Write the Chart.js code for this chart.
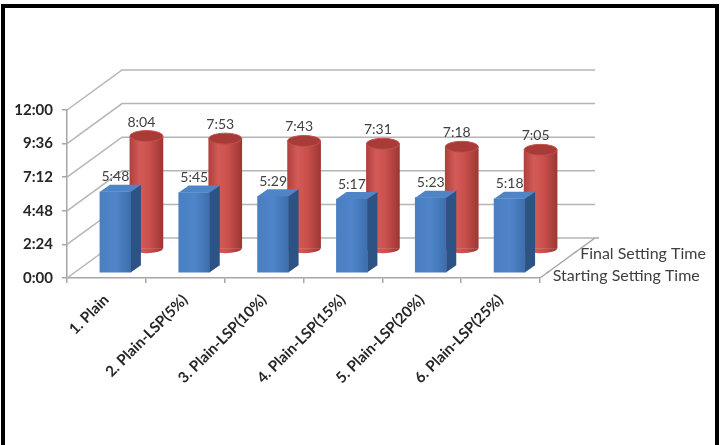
<!DOCTYPE html>
<html>
<head>
<meta charset="utf-8">
<script src="https://cdn.jsdelivr.net/npm/chart.js@4.4.0/dist/chart.umd.min.js"></script>
<style>
    html, body { margin: 0; padding: 0; background: #fff; }
    #wrap { position: relative; width: 725px; height: 445px; overflow: hidden; background: #fff; }
    #frame { position: absolute; left: 1px; top: 4px; width: 718px; height: 470px; border: solid #000; border-width: 4px 4px 0 4px; box-sizing: border-box; }
    canvas { position: absolute; left: 0; top: 0; }
</style>
</head>
<body>
<div id="wrap">
    <div id="frame"></div>
    <canvas id="chart" width="725" height="445"></canvas>
</div>
<script>
const categories = ['1. Plain', '2. Plain-LSP(5%)', '3. Plain-LSP(10%)', '4. Plain-LSP(15%)', '5. Plain-LSP(20%)', '6. Plain-LSP(25%)'];
// times in minutes
const startingTimes = [348, 345, 329, 317, 323, 318];
const finalTimes = [484, 473, 463, 451, 438, 425];
const seriesNames = ['Starting Setting Time', 'Final Setting Time'];
const yTicks = [0, 144, 288, 432, 576, 720];

// fake 3d: how far each series (and the back wall) sits behind the front axis
const depth = [{ dx: 9, dy: -5 }, { dx: 40, dy: -29 }];
const wall = { dx: 55, dy: -40 };

function toClock(min) {
    return Math.floor(min / 60) + ':' + String(min % 60).padStart(2, '0');
}

function barGradient(c, width, stops) {
    const chart = c.chart;
    if (!chart.chartArea) return stops[0][1];
    const cx = chart.scales.x.getPixelForValue(c.dataIndex);
    const g = chart.ctx.createLinearGradient(cx - width / 2, 0, cx + width / 2, 0);
    stops.forEach(s => g.addColorStop(s[0], s[1]));
    return g;
}

const blueStops = [[0, '#4a7fc2'], [0.5, '#4f86c9'], [1, '#3d6eae']];
const redStops = [[0, '#b0403d'], [0.3, '#d35b57'], [0.6, '#c94f4b'], [1, '#9c3734']];

const frame3d = {
    id: 'frame3d',
    beforeDatasetsDraw(chart) {
        const ctx = chart.ctx;
        const a = chart.chartArea;
        const y = chart.scales.y;
        ctx.save();
        ctx.strokeStyle = '#b5b5b5';
        ctx.lineWidth = 1.5;
        yTicks.forEach(v => {
            const py = y.getPixelForValue(v);
            ctx.beginPath();
            ctx.moveTo(a.left, py);
            ctx.lineTo(a.left + wall.dx, py + wall.dy);
            ctx.lineTo(a.right + wall.dx, py + wall.dy);
            ctx.stroke();
        });
        ctx.strokeStyle = '#a6a6a6';
        ctx.beginPath();
        ctx.moveTo(a.right, a.bottom);
        ctx.lineTo(a.right + wall.dx, a.bottom + wall.dy);
        ctx.lineTo(a.right + wall.dx + 4, a.bottom + wall.dy);
        ctx.stroke();

        // series names along the depth axis
        ctx.font = '16px Lato';
        ctx.fillStyle = '#404040';
        ctx.textAlign = 'left';
        ctx.textBaseline = 'middle';
        seriesNames.forEach((name, i) => {
            const t = (i + 0.35) / 2;
            const px = a.right + wall.dx * t;
            const py = a.bottom + wall.dy * t;
            ctx.beginPath();
            ctx.moveTo(px, py);
            ctx.lineTo(px - 3, py + 2);
            ctx.stroke();
            ctx.fillText(name, px + 3, py + (i === 0 ? 5 : 3));
        });
        ctx.restore();
    },
    beforeDatasetDraw(chart, args) {
        const d = depth[args.index];
        chart.ctx.save();
        chart.ctx.translate(d.dx, d.dy);
    },
    afterDatasetDraw(chart, args) {
        const ctx = chart.ctx;
        const values = args.index === 0 ? startingTimes : finalTimes;
        args.meta.data.forEach((bar, i) => {
            const p = bar.getProps(['x', 'y', 'base', 'width'], true);
            const x0 = p.x - p.width / 2;
            const x1 = p.x + p.width / 2;
            if (args.index === 0) {
                const sx = 10, sy = -7;
                ctx.fillStyle = '#2d5284';
                ctx.beginPath();
                ctx.moveTo(x1, p.y);
                ctx.lineTo(x1 + sx, p.y + sy);
                ctx.lineTo(x1 + sx, p.base + sy);
                ctx.lineTo(x1, p.base);
                ctx.closePath();
                ctx.fill();
                ctx.fillStyle = '#4f84c6';
                ctx.beginPath();
                ctx.moveTo(x0, p.y);
                ctx.lineTo(x0 + sx, p.y + sy);
                ctx.lineTo(x1 + sx, p.y + sy);
                ctx.lineTo(x1, p.y);
                ctx.closePath();
                ctx.fill();
            } else {
                const g = ctx.createLinearGradient(x0, 0, x1, 0);
                redStops.forEach(s => g.addColorStop(s[0], s[1]));
                ctx.fillStyle = g;
                ctx.beginPath();
                ctx.ellipse(p.x, p.base, p.width / 2, 5, 0, 0, Math.PI);
                ctx.fill();
                ctx.fillStyle = '#a83a37';
                ctx.beginPath();
                ctx.ellipse(p.x, p.y, p.width / 2, 5.5, 0, 0, Math.PI * 2);
                ctx.fill();
                ctx.strokeStyle = '#c4504c';
                ctx.lineWidth = 1;
                ctx.stroke();
            }
            ctx.font = '14px Lato';
            ctx.fillStyle = '#404040';
            ctx.textAlign = 'center';
            ctx.textBaseline = 'middle';
            if (args.index === 0)
                ctx.fillText(toClock(values[i]), p.x, p.y - 15);
            else
                ctx.fillText(toClock(values[i]), p.x - 5, p.y - 14);
        });
        ctx.restore();
    }
};

new Chart(document.getElementById('chart'), {
    type: 'bar',
    data: {
        labels: categories,
        datasets: [
            {
                label: seriesNames[0],
                data: startingTimes,
                backgroundColor: c => barGradient(c, 31, blueStops),
                barThickness: 31,
                borderWidth: 0
            },
            {
                label: seriesNames[1],
                data: finalTimes,
                backgroundColor: c => barGradient(c, 33, redStops),
                barThickness: 33,
                borderWidth: 0
            }
        ]
    },
    options: {
        responsive: false,
        animation: false,
        layout: { padding: { top: 110, right: 185, left: 0, bottom: 0 } },
        datasets: { bar: { grouped: false, clip: false } },
        plugins: { legend: { display: false }, tooltip: { enabled: false } },
        scales: {
            x: {
                offset: true,
                grid: { offset: true, drawOnChartArea: false, tickLength: 5, color: '#a6a6a6', lineWidth: 1.5 },
                border: { color: '#a6a6a6', width: 1.5 },
                ticks: {
                    minRotation: 45,
                    maxRotation: 45,
                    padding: 8,
                    color: '#262626',
                    font: { family: 'Lato', size: 15, weight: 'bold' }
                },
                afterFit: s => { s.height = 167; }
            },
            y: {
                min: 0,
                max: 720,
                afterBuildTicks: s => { s.ticks = yTicks.map(v => ({ value: v })); },
                grid: { drawOnChartArea: false, tickLength: 5, color: '#a6a6a6', lineWidth: 1.5 },
                border: { color: '#a6a6a6', width: 1.5 },
                ticks: {
                    callback: v => toClock(v),
                    padding: 9,
                    color: '#262626',
                    font: { family: 'Lato', size: 15, weight: 'bold' }
                },
                afterFit: s => { s.width = 67; }
            }
        }
    },
    plugins: [frame3d]
});
</script>
</body>
</html>
